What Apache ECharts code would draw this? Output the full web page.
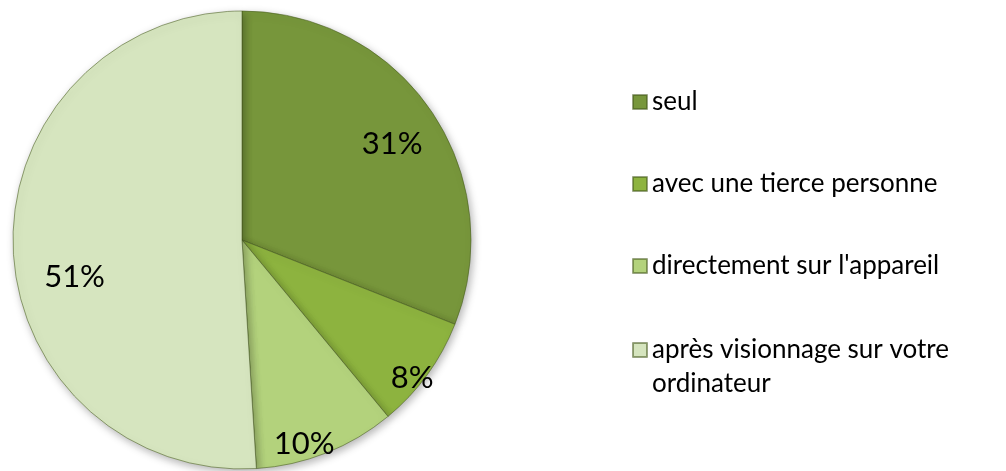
<!DOCTYPE html>
<html>
<head>
<meta charset="utf-8">
<script src="https://cdn.jsdelivr.net/npm/echarts@6/dist/echarts.min.js"></script>
<style>
  html, body { margin: 0; padding: 0; background: #fff; }
  #main { width: 1006px; height: 471px; }
</style>
</head>
<body>
<!-- camembert + légende à droite -->
<div id="main"></div>
<script>
var categories = ['seul', 'avec une tierce personne', 'directement sur l\'appareil', 'après visionnage sur votre ordinateur']
var values = [31, 8, 10, 51]
var colors = ['#77963b', '#8db33f', '#b3d27c', '#d6e5bf']
// décalage des étiquettes (type "ajustement optimal" d'Excel)
var labelShift = [[53, -30], [75, 69], [19, 95], [-50, 33]]

var myChart = echarts.init(document.getElementById('main'))

var legendText = {
  fontFamily: 'Lato',
  fontSize: 26,
  lineHeight: 34,
  color: '#000',
  width: 347,
  overflow: 'break'
}

// deux légendes : la dernière entrée est sur deux lignes,
// une ligne vide au-dessus garde l'icône en face de la première ligne
var option = {
  animation: false,
  legend: [
    {
      orient: 'vertical',
      left: 627,
      top: 80,
      itemWidth: 14,
      itemHeight: 14,
      itemGap: 48,
      icon: 'rect',
      textStyle: legendText,
      data: categories.slice(0, 3)
    },
    {
      orient: 'vertical',
      left: 627,
      top: 294,
      itemWidth: 14,
      itemHeight: 14,
      icon: 'rect',
      textStyle: legendText,
      formatter: '\n{name}',
      data: categories.slice(3)
    }
  ],
  series: [
    {
      type: 'pie',
      center: [242, 240],
      radius: 229,
      startAngle: 90,
      clockwise: true,
      label: {
        show: true,
        position: 'inside',
        formatter: '{c}%',
        fontFamily: 'Lato',
        fontSize: 31,
        color: '#000'
      },
      labelLine: { show: false },
      labelLayout: function (params) {
        var s = labelShift[params.dataIndex]
        return { dx: s[0], dy: s[1] }
      },
      itemStyle: {
        borderColor: 'rgba(70,90,30,0.55)',
        borderWidth: 1,
        shadowBlur: 8,
        shadowOffsetX: 2,
        shadowOffsetY: 3,
        shadowColor: 'rgba(0,0,0,0.3)'
      },
      emphasis: { disabled: true },
      data: categories.map(function (name, i) {
        return { name: name, value: values[i], itemStyle: { color: colors[i] } }
      })
    }
  ]
}

myChart.setOption(option)
</script>
</body>
</html>
